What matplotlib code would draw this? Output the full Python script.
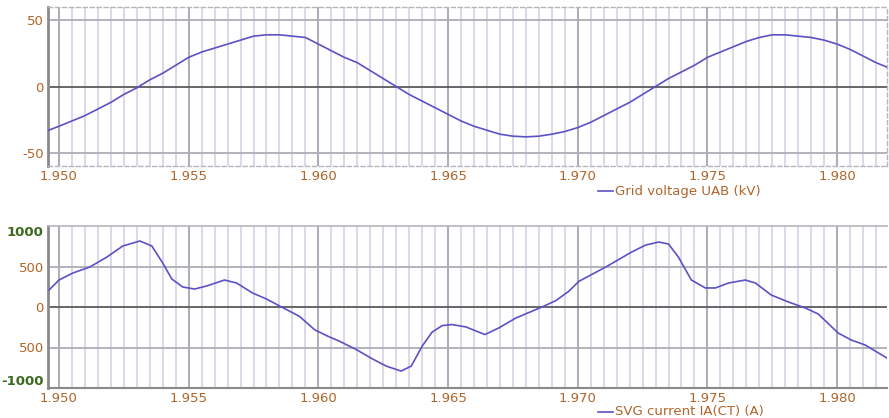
import matplotlib
matplotlib.use("Agg")
import matplotlib.pyplot as plt
from matplotlib.lines import Line2D
import numpy as np

# ---------------- data ----------------
volt_t = [1.9496, 1.9500, 1.9505, 1.9510, 1.9515, 1.9520, 1.9525, 1.9530, 1.9535,
          1.9540, 1.9545, 1.9550, 1.9555, 1.9560, 1.9565, 1.9570, 1.9575, 1.9580,
          1.9585, 1.9590, 1.9595, 1.9600, 1.9605, 1.9610, 1.9615, 1.9620, 1.9625,
          1.9630, 1.9635, 1.9640, 1.9645, 1.9650, 1.9655, 1.9660, 1.9665, 1.9670,
          1.9675, 1.9680, 1.9685, 1.9690, 1.9695, 1.9700, 1.9705, 1.9710, 1.9715,
          1.9720, 1.9725, 1.9730, 1.9735, 1.9740, 1.9745, 1.9750, 1.9755, 1.9760,
          1.9765, 1.9770, 1.9775, 1.9780, 1.9785, 1.9790, 1.9795, 1.9800, 1.9805,
          1.9810, 1.9815, 1.9820]
volt_v = [-33, -30, -26, -22, -17, -12, -6, -1, 5,
          10, 16, 22, 26, 29, 32, 35, 38, 39,
          39, 38, 37, 32, 27, 22, 18, 12, 6,
          0, -6, -11, -16, -21, -26, -30, -33, -36,
          -37.5, -38, -37.5, -36, -34, -31, -27, -22, -17,
          -12, -6, 0, 6, 11, 16, 22, 26, 30,
          34, 37, 39, 39, 38, 37, 35, 32, 28,
          23, 18, 14]

curr_t = [1.94962, 1.95000, 1.95054, 1.95119, 1.95185, 1.95246, 1.95312, 1.95358,
          1.95400, 1.95435, 1.95477, 1.95523, 1.95569, 1.95638, 1.95685, 1.95746,
          1.95800, 1.95858, 1.95927, 1.95985, 1.96031, 1.96081, 1.96146, 1.96208,
          1.96262, 1.96319, 1.96358, 1.96400, 1.96438, 1.96477, 1.96515, 1.96569,
          1.96642, 1.96696, 1.96762, 1.96823, 1.96862, 1.96915, 1.96965, 1.97004,
          1.97108, 1.97208, 1.97262, 1.97312, 1.97350, 1.97388, 1.97438, 1.97492,
          1.97531, 1.97581, 1.97646, 1.97685, 1.97746, 1.97812, 1.97877, 1.97927,
          1.98004, 1.98054, 1.98108, 1.98192]
curr_v = [210, 333, 420, 494, 617, 753, 815, 753,
          543, 346, 247, 222, 259, 333, 296, 173,
          99, 0, -115, -279, -353, -422, -525, -640,
          -730, -791, -730, -484, -312, -230, -217, -246,
          -340, -258, -135, -53, 0, 78, 193, 316,
          494, 679, 765, 802, 778, 617, 333, 235,
          235, 296, 333, 296, 148, 62, -12, -86,
          -321, -407, -469, -630]

x_ticks = [1.950, 1.955, 1.960, 1.965, 1.970, 1.975, 1.980]
x_tick_labels = ["1.950", "1.955", "1.960", "1.965", "1.970", "1.975", "1.980"]
v_ticks = [50, 0, -50]
v_tick_labels = ["50", "0", "-50"]
i_ticks = [1000, 500, 0, -500, -1000]
i_tick_labels = ["1000", "500", "0", "500", "-1000"]
legend_top = "Grid voltage UAB (kV)"
legend_bot = "SVG current IA(CT) (A)"

# ---------------- style ----------------
LINE = "#5b52c4"
BROWN = "#b0652a"
GREEN = "#3b6a1c"
MINOR = "#dcd9e8"
MAJOR = "#adadb6"
ZERO = "#5a5a5a"
XMIN, XMAX = 1.949577, 1.981923

fig = plt.figure(figsize=(8.89, 4.18), dpi=100)
ax1 = fig.add_axes([48/889, 1-166/418, (887-48)/889, 159/418])
ax2 = fig.add_axes([48/889, 1-388/418, (887-48)/889, 162/418])


def style(ax, ylim, hlines):
    ax.set_xlim(XMIN, XMAX)
    ax.set_ylim(*ylim)
    minor = np.arange(1.9500, 1.98201, 0.0005)
    for m in minor:
        ax.axvline(m, color=MINOR, lw=1.5, zorder=0)
    for m in x_ticks:
        ax.axvline(m, color=MAJOR, lw=1.4, zorder=0.5)
    for h in hlines:
        ax.axhline(h, color=MAJOR, lw=1.3, zorder=0.5)
    ax.axhline(0, color=ZERO, lw=1.3, zorder=1)
    ax.set_xticks(x_ticks)
    ax.set_xticklabels(x_tick_labels)
    ax.tick_params(axis="both", length=0, labelsize=9.5, colors=BROWN)
    ax.tick_params(axis="x", pad=3)
    ax.tick_params(axis="y", pad=3)
    ax.spines["left"].set_color("#8a8a8a")
    ax.spines["left"].set_linewidth(2)
    for lbl in ax.get_xticklabels() + ax.get_yticklabels():
        lbl.set_color(BROWN)


style(ax1, (-60, 60), [50, -50])
ax1.plot(volt_t, volt_v, color=LINE, lw=1.2, zorder=3)
ax1.set_yticks(v_ticks)
ax1.set_yticklabels(v_tick_labels, color=BROWN)
for s in ["top", "bottom", "right"]:
    ax1.spines[s].set_color("#b5b5bd")
    ax1.spines[s].set_linestyle((0, (3, 2)))
    ax1.spines[s].set_linewidth(1.0)

style(ax2, (-1000, 1000), [500, -500])
ax2.plot(curr_t, curr_v, color=LINE, lw=1.2, zorder=3)
ax2.set_yticks(i_ticks)
ax2.set_yticklabels(i_tick_labels)
ylbls = ax2.get_yticklabels()
for lbl in ylbls:
    lbl.set_color(BROWN)
ylbls[0].set_color(GREEN)
ylbls[0].set_fontweight("bold")
ylbls[0].set_va("top")
ylbls[-1].set_color(GREEN)
ylbls[-1].set_fontweight("bold")
ylbls[-1].set_va("bottom")
ax2.spines["top"].set_color("#b5b5bd")
ax2.spines["top"].set_linewidth(1.2)
ax2.spines["right"].set_visible(False)
ax2.spines["bottom"].set_color("#8a8a8a")
ax2.spines["bottom"].set_linewidth(1.5)

# legends
for ytxt, txt in [(191, legend_top), (412, legend_bot)]:
    yf = 1 - ytxt / 418
    fig.add_artist(Line2D([598/889, 613/889], [yf, yf], color=LINE, lw=1.2,
                          transform=fig.transFigure))
    fig.text(615/889, yf, txt, color=BROWN, fontsize=9.5, va="center", ha="left")

fig.savefig("out.png", dpi=100, facecolor="white")
